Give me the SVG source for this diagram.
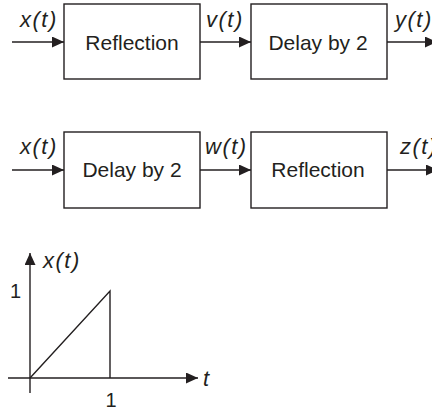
<svg xmlns="http://www.w3.org/2000/svg" width="432" height="410" viewBox="0 0 432 410">
<defs>
<style>
.box{fill:#fff;stroke:#231f20;stroke-width:1.4}
.ln{fill:none;stroke:#231f20;stroke-width:1.4}
.t{font-family:"Liberation Sans",Arial,sans-serif;font-size:21px;fill:#231f20;text-anchor:middle}
.lb{font-family:"Liberation Sans",Arial,sans-serif;font-size:22px;font-style:italic;fill:#231f20;letter-spacing:1.5px}
.n{font-family:"Liberation Sans",Arial,sans-serif;font-size:20px;fill:#231f20}
</style>
<marker id="ah" viewBox="0 0 12 11" refX="12" refY="5.5" markerWidth="12" markerHeight="11" markerUnits="userSpaceOnUse" orient="auto">
<path d="M0,0 L12,5.5 L0,11 Z" fill="#231f20"/>
</marker>
</defs>
<g id="connectors">
<line class="ln" x1="12" y1="42" x2="64" y2="42" marker-end="url(#ah)"/>
<line class="ln" x1="200" y1="42" x2="251" y2="42" marker-end="url(#ah)"/>
<line class="ln" x1="387" y1="42" x2="437" y2="42" marker-end="url(#ah)"/>
<line class="ln" x1="12" y1="170" x2="64" y2="170" marker-end="url(#ah)"/>
<line class="ln" x1="200" y1="170" x2="251" y2="170" marker-end="url(#ah)"/>
<line class="ln" x1="387" y1="170" x2="438" y2="170" marker-end="url(#ah)"/>
</g>
<g id="labels">
<text class="lb" x="20" y="27">x(t)</text>
<text class="lb" x="206" y="27">v(t)</text>
<text class="lb" x="395" y="27">y(t)</text>
<text class="lb" x="20" y="154">x(t)</text>
<text class="lb" x="205" y="154">w(t)</text>
<text class="lb" x="400" y="154">z(t)</text>
</g>
<g id="reflection1">
<rect class="box" x="64" y="4" width="136" height="75"/>
<text class="t" x="132" y="49.5">Reflection</text>
</g>
<g id="delay1">
<rect class="box" x="251" y="4" width="136" height="75"/>
<text class="t" x="318" y="49.5">Delay by 2</text>
</g>
<g id="delay2">
<rect class="box" x="64" y="132" width="136" height="76"/>
<text class="t" x="132" y="177">Delay by 2</text>
</g>
<g id="reflection2">
<rect class="box" x="251" y="132" width="136" height="76"/>
<text class="t" x="318" y="177">Reflection</text>
</g>
<g id="graph">
<line class="ln" x1="30" y1="393" x2="30" y2="253" marker-end="url(#ah)"/>
<line class="ln" x1="8" y1="378" x2="198" y2="378" marker-end="url(#ah)"/>
<polyline class="ln" points="30,378 110,291 110,378"/>
<text class="lb" x="43" y="268">x(t)</text>
<text class="n" x="10" y="298">1</text>
<text class="n" x="111" y="407" text-anchor="middle">1</text>
<text class="lb" x="203" y="386">t</text>
</g>
</svg>
